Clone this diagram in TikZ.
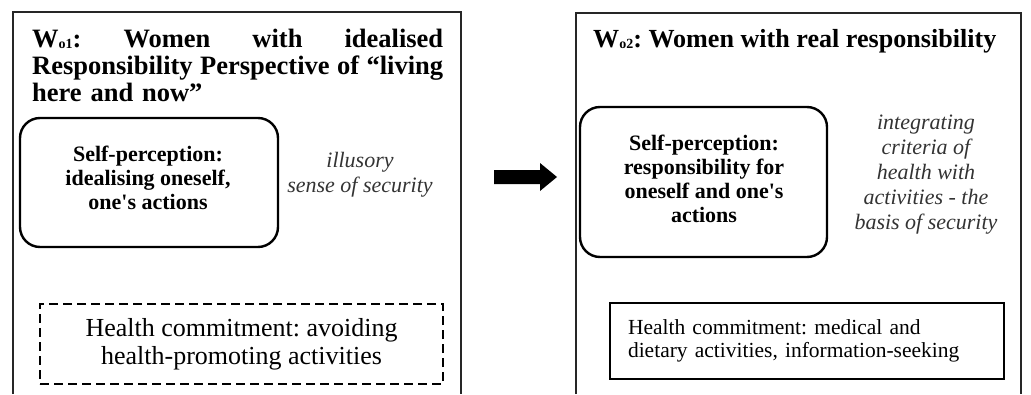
\documentclass[tikz,border=0pt]{standalone}
\usepackage{fontspec}
\setmainfont{Liberation Serif}
\frenchspacing
\newcommand\wsub[1]{{\fontsize{14}{14}\selectfont\raisebox{-1pt}{#1}}}
\begin{document}
\begin{tikzpicture}[x=1pt,y=-1pt,
  frame/.style={line width=1.5pt, draw=black!85},
  selfbox/.style={draw, line width=2.4pt, rounded corners=20pt, inner sep=0},
  selftext/.style={align=center, font=\bfseries\fontsize{22}{24}\selectfont, inner sep=0},
  note/.style={align=center, font=\itshape\fontsize{22}{25}\selectfont, text=black!80, inner sep=0},
  titletext/.style={inner sep=0, font=\bfseries\fontsize{26.5}{27}\selectfont},
  dashbox/.style={draw, line width=1.5pt, dash pattern=on 9pt off 5pt, align=center,
    font=\fontsize{26}{28}\selectfont, inner sep=0},
  solidbox/.style={draw, line width=2.8pt, align=left, inner ysep=0, inner xsep=18pt,
    font=\fontsize{21.5}{23}\selectfont},
  blockarrow/.style={fill=black}
]
\useasboundingbox (0,0) rectangle (1031,394);
% outer frames
\draw[frame] (13,394) -- (13,12) -- (461,12) -- (461,394);
\draw[frame] (576,394) -- (576,13) -- (1021,13) -- (1021,394);
% titles
\node[titletext, anchor=north west, text width=411pt] (t1) at (32,29)
  {W\wsub{o1}:\hfill Women\hfill with\hfill idealised\\
   Responsibility\hfill Perspective\hfill of\hfill “living\\
   here and now”};
\node[titletext, anchor=base west, font=\bfseries\fontsize{26.1}{27}\selectfont] (t2) at (593,47)
  {W\wsub{o2}: Women with real responsibility};
% self-perception boxes
\node[selfbox, minimum width=258pt, minimum height=129pt] (s1) at (149,182.5) {};
\node[selftext] (s1t) at (148,177.5)
  {Self-perception:\\idealising oneself,\\one\textquotesingle s actions};
\node[selfbox, minimum width=247pt, minimum height=150pt] (s2) at (703.5,182) {};
\node[selftext] (s2t) at (704,178.5)
  {Self-perception:\\responsibility for\\oneself and one\textquotesingle s\\actions};
% notes
\node[note] (n1) at (360,175) {illusory\\sense of security};
\node[note] (n2) at (926,175) {integrating\\criteria of\\health with\\activities - the\\basis of security};
% health boxes
\node[dashbox, minimum width=403pt, minimum height=80pt] (h1) at (241.5,344)
  {Health commitment: avoiding\\health-promoting activities};
\node[solidbox, text width=358pt, minimum height=76pt] (h2) at (807,341)
  {Health commitment: medical and\\dietary activities, information-seeking};
% arrow
\fill[blockarrow] (494,170) -- (540,170) -- (540,163) -- (557,177) -- (540,191) -- (540,184) -- (494,184) -- cycle;
\end{tikzpicture}
\end{document}
